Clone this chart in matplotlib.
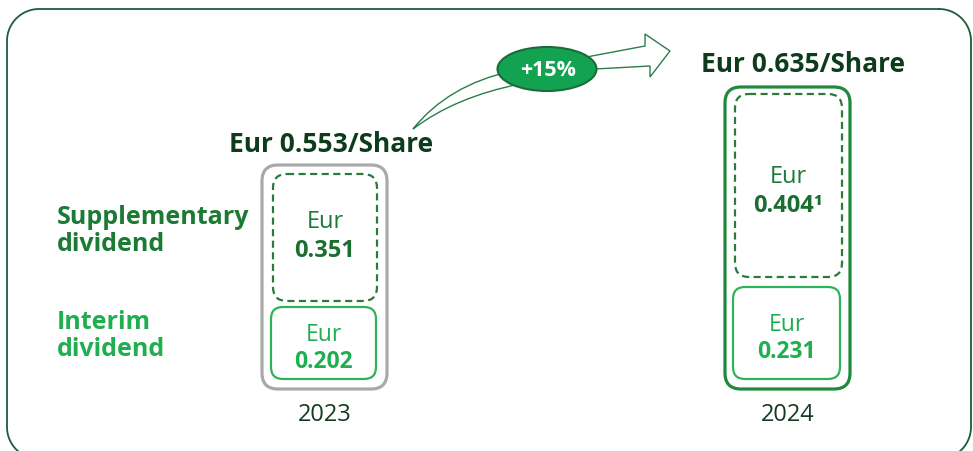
import matplotlib
matplotlib.use('Agg')
import numpy as np
import matplotlib.pyplot as plt
from matplotlib.patches import FancyBboxPatch, Ellipse, PathPatch
from matplotlib.path import Path

plt.rcParams['font.family'] = ['Open Sans', 'DejaVu Sans']

# Data
years = ['2023', '2024']
interim = [0.202, 0.231]
supplementary = [0.351, 0.404]
totals = [0.553, 0.635]
supp_notes = ['', '\u00b9']
growth_label = '+15%'
row_labels = ['Supplementary\ndividend', 'Interim\ndividend']

# Colours
c_dark = '#0d3b1c'
c_supp = '#1b7a33'
c_int = '#1fae50'
c_frame = '#1d5c3c'
c_outer = ['#a9a9a9', '#1f8a3c']

# Layout (pixel units, y downwards)
W, H = 973, 452
outer_box = [(262, 166, 125, 224), (725, 88, 125, 302)]
supp_box = [(273, 175, 104, 127), (735, 95, 107, 183)]
int_box = [(271, 308, 105, 72), (733, 288, 107, 92)]
supp_text_y = [(222, 251), (177, 206)]
int_text_y = [(335, 362), (325, 352)]
title_pos = [(331, 145), (803, 65)]
year_y = 415

fig = plt.figure(figsize=(W / 100, H / 100), dpi=100)
ax = fig.add_axes([0, 0, 1, 1])
ax.set_xlim(0, W)
ax.set_ylim(H, 0)
ax.axis('off')

# outer frame as a polyline with round corners (bottom edge runs off the picture)
def round_rect(x0, y0, x1, y1, r, n=30):
    pts = []
    for cx, cy, a0 in [(x1 - r, y0 + r, -90), (x1 - r, y1 - r, 0), (x0 + r, y1 - r, 90), (x0 + r, y0 + r, 180)]:
        t = np.radians(np.linspace(a0, a0 + 90, n))
        pts += list(zip(cx + r * np.cos(t), cy + r * np.sin(t)))
    pts.append(pts[0])
    return np.array(pts)

fr = round_rect(7, 10, 971, 460, 32)
ax.plot(fr[:, 0], fr[:, 1], color=c_frame, lw=1.3)

def rbox(b, color, lw, ls='-', r=12):
    x, y, w, h = b
    ax.add_patch(FancyBboxPatch((x, y), w, h, boxstyle='round,pad=0,rounding_size=%d' % r,
                                fc='none', ec=color, lw=lw, linestyle=ls))

for i in range(len(years)):
    rbox(outer_box[i], c_outer[i], 2.3, r=16)
    rbox(supp_box[i], '#2a7a3a', 1.6, ls=(0, (3.2, 2)), r=14)
    rbox(int_box[i], '#2eb35a', 1.6, r=12)

    sx = supp_box[i][0] + supp_box[i][2] / 2
    ax.text(sx, supp_text_y[i][0], 'Eur', ha='center', va='center', fontsize=17, color=c_supp)
    ax.text(sx, supp_text_y[i][1], '%.3f%s' % (supplementary[i], supp_notes[i]), ha='center',
            va='center', fontsize=17, fontweight='bold', color='#1a6e30')

    ix = int_box[i][0] + int_box[i][2] / 2
    ax.text(ix, int_text_y[i][0], 'Eur', ha='center', va='center', fontsize=16.5, color=c_int)
    ax.text(ix, int_text_y[i][1], '%.3f' % interim[i], ha='center', va='center',
            fontsize=16.5, fontweight='bold', color=c_int)

    tx, ty = title_pos[i]
    ax.text(tx, ty, 'Eur %.3f/Share' % totals[i], ha='center', va='center',
            fontsize=19, fontweight='bold', color=c_dark)
    ax.text(outer_box[i][0] + outer_box[i][2] / 2, year_y, years[i], ha='center', va='center',
            fontsize=17, color='#153a22')

# row labels
ax.text(57, 231, row_labels[0], ha='left', va='center', fontsize=18, fontweight='bold',
        color=c_supp, linespacing=1.1)
ax.text(57, 336, row_labels[1], ha='left', va='center', fontsize=18, fontweight='bold',
        color=c_int, linespacing=1.1)

# growth arrow
verts = [(413, 130), (448, 86), (512, 72),
         (645, 47), (645, 35), (670, 52), (650, 78), (650, 67), (595, 70),
         (520, 85), (455, 98), (413, 130)]
codes = [Path.MOVETO, Path.CURVE3, Path.CURVE3,
         Path.LINETO, Path.LINETO, Path.LINETO, Path.LINETO, Path.LINETO, Path.LINETO,
         Path.LINETO, Path.CURVE3, Path.CURVE3]
ax.add_patch(PathPatch(Path(verts, codes), fc='white', ec='#2a7d4a', lw=1.0))
ax.add_patch(Ellipse((547, 70), 99, 44, fc='#13a350', ec='#1c6b3b', lw=1.5))
ax.text(548, 71, growth_label, ha='center', va='center', fontsize=15.5, fontweight='bold', color='white')

fig.savefig('out.png', dpi=100)
